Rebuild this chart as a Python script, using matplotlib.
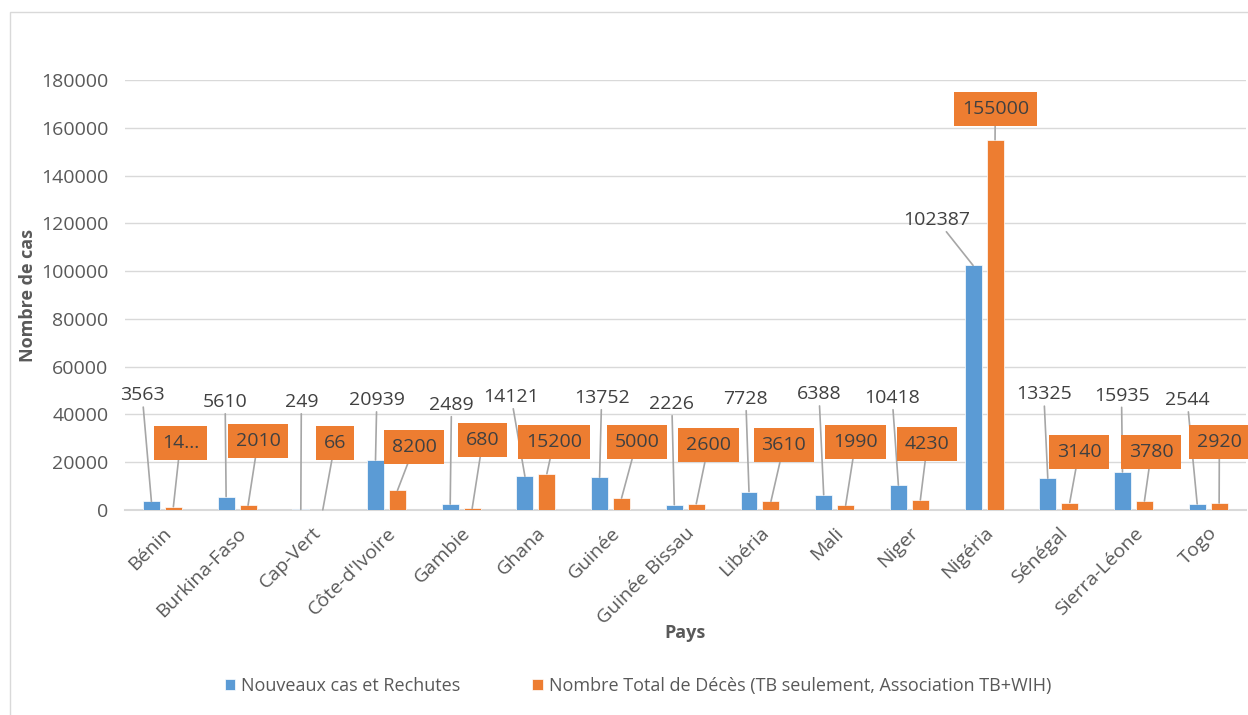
import matplotlib
matplotlib.use("Agg")
import matplotlib.pyplot as plt
import numpy as np
from matplotlib.patches import Rectangle

pays = ["Bénin", "Burkina-Faso", "Cap-Vert", "Côte-d'Ivoire", "Gambie", "Ghana",
        "Guinée", "Guinée Bissau", "Libéria", "Mali", "Niger", "Nigéria",
        "Sénégal", "Sierra-Léone", "Togo"]
nouveaux_cas = [3563, 5610, 249, 20939, 2489, 14121, 13752, 2226, 7728, 6388,
                10418, 102387, 13325, 15935, 2544]
deces_total = [1400, 2010, 66, 8200, 680, 15200, 5000, 2600, 3610, 1990,
               4230, 155000, 3140, 3780, 2920]
# the first orange label is cut off in the original ("14...")
deces_labels = ["14…"] + [str(v) for v in deces_total[1:]]
y_ticks = [0, 20000, 40000, 60000, 80000, 100000, 120000, 140000, 160000, 180000]

# label placement (x offset in category units, y in data units)
blue_lab_dx = [-0.27, -0.16, -0.14, -0.13, -0.13, -0.33, -0.12, -0.18, -0.19, -0.21,
               -0.23, -0.63, -0.20, -0.16, -0.28]
blue_lab_y = [48000, 45200, 45200, 46000, 44000, 47300, 46900, 44400, 46500, 48500,
              46900, 121400, 48400, 47900, 46000]
orange_lab_dx = [0.24, 0.28, 0.31, 0.37, 0.29, 0.24, 0.35, 0.31, 0.32, 0.28,
                 0.24, 0.15, 0.27, 0.24, 0.15]
orange_lab_y = [28000, 28900, 28000, 26400, 29300, 28500, 28500, 27200, 27200, 28500,
                27600, 167900, 24300, 24300, 28500]

BLUE = "#5B9BD5"
ORANGE = "#ED7D31"
TXT = "#404040"
GREY = "#595959"
LINE = "#A6A6A6"

plt.rcParams["font.family"] = ["Open Sans", "DejaVu Sans"]

fig = plt.figure(figsize=(12.48, 7.15), dpi=100)
ax = fig.add_axes([0.1002, 0.2867, 0.8978, 0.6014])

# chart border
fig.patches.append(Rectangle((10 / 1248, -0.01), 1.2, 1 - 12 / 715 + 0.01,
                             transform=fig.transFigure, fill=False,
                             edgecolor="#D9D9D9", lw=1))

x = np.arange(len(pays))
w = 0.227
off = 0.147
ax.bar(x - off, nouveaux_cas, w, color=BLUE, edgecolor="white", lw=0.5,
       label="Nouveaux cas et Rechutes", zorder=3)
ax.bar(x + off, deces_total, w, color=ORANGE, edgecolor="white", lw=0.5,
       label="Nombre Total de Décès (TB seulement, Association TB+WIH)", zorder=3)

for i in range(len(pays)):
    ax.annotate(str(nouveaux_cas[i]), xy=(x[i] - off, nouveaux_cas[i]),
                xytext=(x[i] + blue_lab_dx[i], blue_lab_y[i]),
                ha="center", va="center", fontsize=14, color=TXT,
                arrowprops=dict(arrowstyle="-", color=LINE, lw=1.2,
                                shrinkA=0, shrinkB=0),
                zorder=5)
    ax.annotate(deces_labels[i], xy=(x[i] + off, deces_total[i]),
                xytext=(x[i] + orange_lab_dx[i], orange_lab_y[i]),
                ha="center", va="center", fontsize=14, color=TXT,
                bbox=dict(boxstyle="square,pad=0.4", fc=ORANGE, ec="none"),
                arrowprops=dict(arrowstyle="-", color=LINE, lw=1.2,
                                shrinkA=0, shrinkB=0),
                zorder=5)

ax.set_xlim(-0.5, len(pays) - 0.5)
ax.set_ylim(0, 180000)
ax.set_yticks(y_ticks)
ax.set_yticklabels([str(t) for t in y_ticks])
ax.set_xticks(x)
ax.set_xticklabels(pays, rotation=45, ha="right", rotation_mode="anchor")
ax.tick_params(axis="both", length=0, labelsize=14, labelcolor=GREY)
ax.tick_params(axis="x", pad=10)
ax.tick_params(axis="y", pad=12)
ax.grid(axis="y", color="#D9D9D9", lw=1, zorder=0)
ax.set_axisbelow(True)
for s in ["top", "right", "left"]:
    ax.spines[s].set_visible(False)
ax.spines["bottom"].set_color("#D9D9D9")
ax.spines["bottom"].set_linewidth(1.5)

ax.set_ylabel("Nombre de cas", fontsize=13, fontweight="bold", color=GREY, labelpad=3)
ax.set_xlabel("Pays", fontsize=13, fontweight="bold", color=GREY)
ax.xaxis.set_label_coords(0.5, -0.265)

leg = fig.legend(loc="center", bbox_to_anchor=(0.511, 1 - 686 / 715), ncol=2,
                 frameon=False, fontsize=13, handlelength=0.6, handleheight=0.6,
                 handletextpad=0.3, columnspacing=4.0)
for t in leg.get_texts():
    t.set_color(GREY)

fig.savefig("out.png", dpi=100)
